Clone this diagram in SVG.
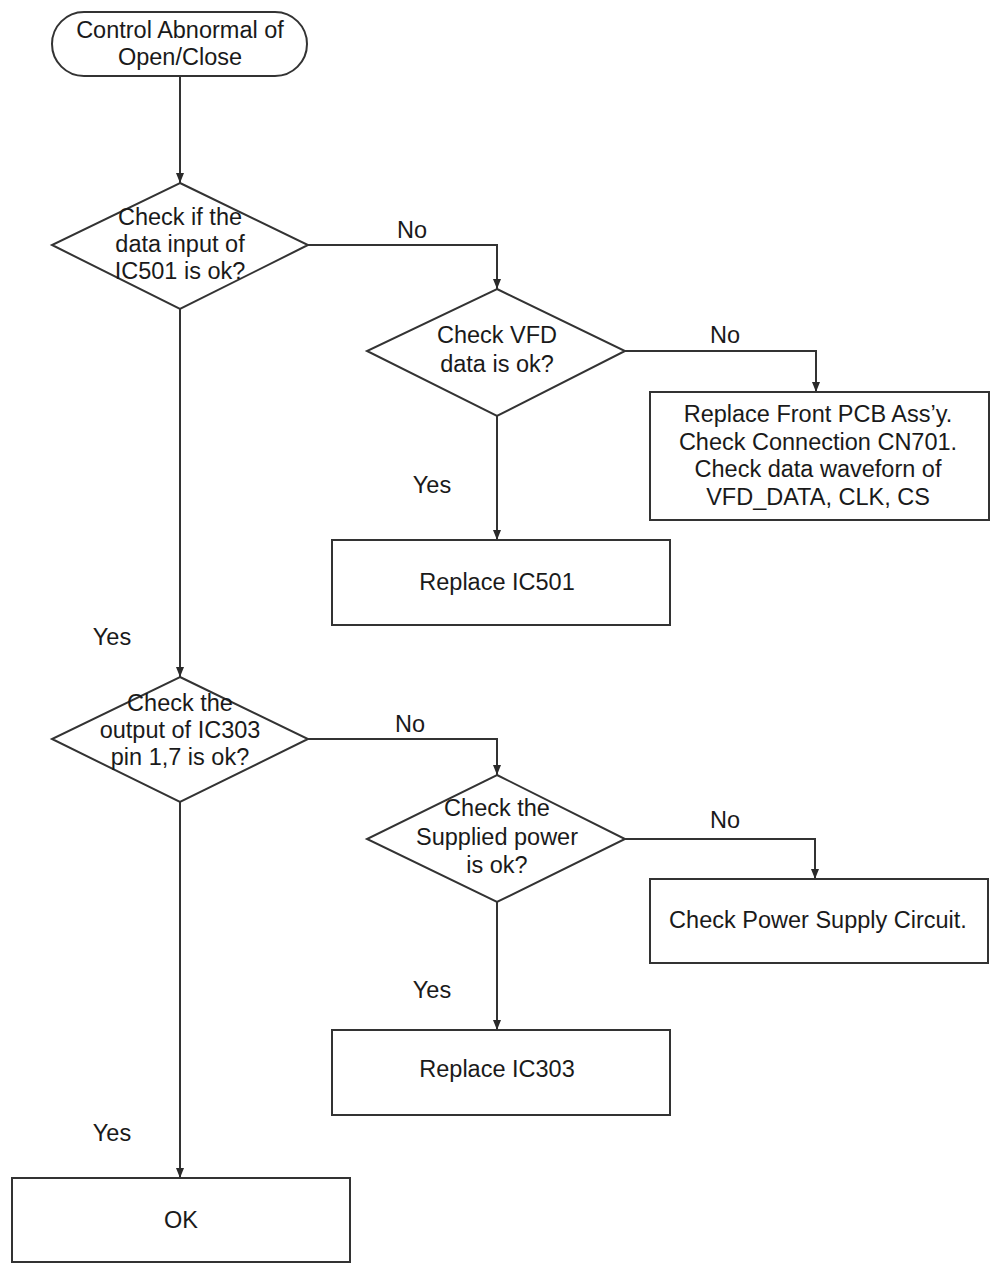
<svg xmlns="http://www.w3.org/2000/svg" width="998" height="1270" viewBox="0 0 998 1270">
<style>
  .shape { fill: #ffffff; stroke: #333333; stroke-width: 2; }
  .conn { fill: none; stroke: #333333; stroke-width: 2; }
  text { font-family: "Liberation Sans", Arial, sans-serif; font-size: 23.5px; fill: #1a1a1a; text-anchor: middle; }
</style>
<defs>
  <marker id="arrow" viewBox="0 0 10 10" refX="10" refY="5" markerWidth="10" markerHeight="10" markerUnits="userSpaceOnUse" orient="auto">
    <path d="M0,1 L10,5 L0,9 Z" fill="#2a2a2a"/>
  </marker>
</defs>
<rect width="998" height="1270" fill="#ffffff"/>

<g id="connectors">
  <path class="conn" d="M180,76 L180,183" marker-end="url(#arrow)"/>
  <path class="conn" d="M308,245 L497,245 L497,289" marker-end="url(#arrow)"/>
  <path class="conn" d="M625,351 L816,351 L816,392" marker-end="url(#arrow)"/>
  <path class="conn" d="M497,416 L497,540" marker-end="url(#arrow)"/>
  <path class="conn" d="M180,309 L180,677" marker-end="url(#arrow)"/>
  <path class="conn" d="M308,739 L497,739 L497,775" marker-end="url(#arrow)"/>
  <path class="conn" d="M625,839 L815,839 L815,879" marker-end="url(#arrow)"/>
  <path class="conn" d="M497,902 L497,1030" marker-end="url(#arrow)"/>
  <path class="conn" d="M180,802 L180,1178" marker-end="url(#arrow)"/>
  <text x="412" y="238">No</text>
  <text x="725" y="343">No</text>
  <text x="432" y="493">Yes</text>
  <text x="112" y="645">Yes</text>
  <text x="410" y="732">No</text>
  <text x="725" y="828">No</text>
  <text x="432" y="998">Yes</text>
  <text x="112" y="1141">Yes</text>
</g>

<g id="start">
  <rect class="shape" x="52" y="12" width="255" height="64" rx="32" ry="32"/>
  <text x="180" y="38">Control Abnormal of</text>
  <text x="180" y="65">Open/Close</text>
</g>

<g id="check-ic501-input">
  <polygon class="shape" points="180,183 308,245 180,309 52,245"/>
  <text x="180" y="225">Check if the</text>
  <text x="180" y="252">data input of</text>
  <text x="180" y="279">IC501 is ok?</text>
</g>

<g id="check-vfd-data">
  <polygon class="shape" points="497,289 625,351 497,416 367,351"/>
  <text x="497" y="343">Check VFD</text>
  <text x="497" y="372">data is ok?</text>
</g>

<g id="replace-front-pcb">
  <rect class="shape" x="650" y="392" width="339" height="128"/>
  <text x="818" y="422">Replace Front PCB Ass’y.</text>
  <text x="818" y="450">Check Connection CN701.</text>
  <text x="818" y="477">Check data waveforn of</text>
  <text x="818" y="505">VFD_DATA, CLK, CS</text>
</g>

<g id="replace-ic501">
  <rect class="shape" x="332" y="540" width="338" height="85"/>
  <text x="497" y="590">Replace IC501</text>
</g>

<g id="check-ic303-output">
  <polygon class="shape" points="180,677 308,739 180,802 52,739"/>
  <text x="180" y="711">Check the</text>
  <text x="180" y="738">output of IC303</text>
  <text x="180" y="765">pin 1,7 is ok?</text>
</g>

<g id="check-supplied-power">
  <polygon class="shape" points="497,775 625,839 497,902 367,839"/>
  <text x="497" y="816">Check the</text>
  <text x="497" y="845">Supplied power</text>
  <text x="497" y="873">is ok?</text>
</g>

<g id="check-power-supply">
  <rect class="shape" x="650" y="879" width="338" height="84"/>
  <text x="818" y="928">Check Power Supply Circuit.</text>
</g>

<g id="replace-ic303">
  <rect class="shape" x="332" y="1030" width="338" height="85"/>
  <text x="497" y="1077">Replace IC303</text>
</g>

<g id="ok">
  <rect class="shape" x="12" y="1178" width="338" height="84"/>
  <text x="181" y="1228">OK</text>
</g>
</svg>
